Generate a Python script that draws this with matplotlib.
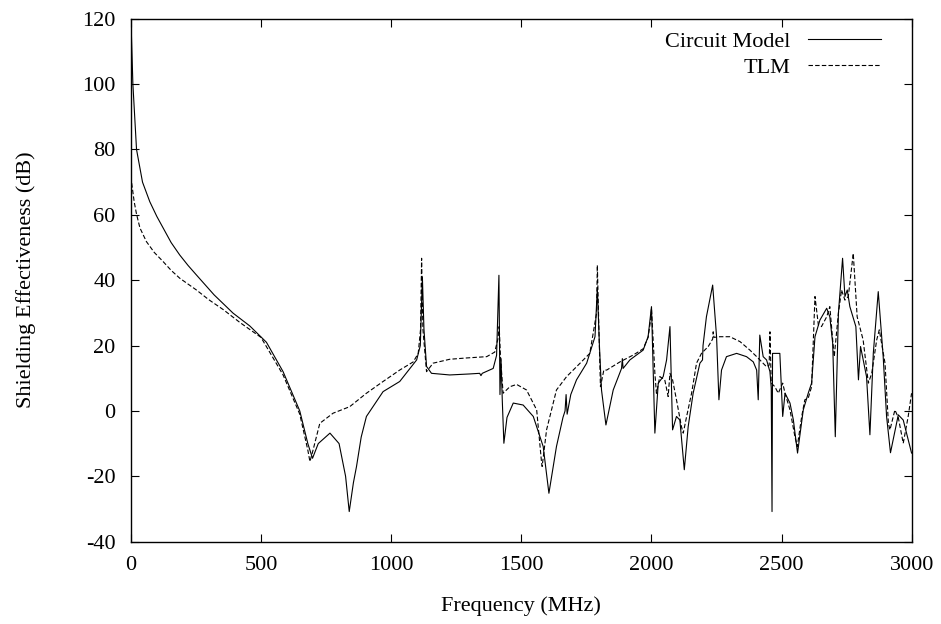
import numpy as np
import matplotlib.pyplot as plt

# values (frequency in MHz, SE in dB)
circuit_f = [2, 8, 22, 45, 73, 100, 124, 155, 188, 220, 252, 320, 393, 457, 521, 585,
             649, 680, 698,
             720, 765, 800, 825, 839, 855, 867, 885, 905, 969, 1033, 1098, 1112, 1120,
             1126, 1136, 1155, 1225, 1300, 1340, 1345, 1350, 1392, 1405, 1414, 1418,
             1422, 1427, 1433, 1445, 1469, 1507, 1546, 1584, 1606, 1635, 1660, 1668,
             1672, 1676, 1690, 1712, 1751, 1783, 1792, 1800, 1808, 1825, 1853, 1885,
             1888, 1891, 1917, 1968, 1987, 2000, 2013, 2026, 2045, 2058, 2071, 2081,
             2096, 2109, 2126, 2141, 2160, 2186, 2196, 2198, 2211, 2235, 2250, 2259,
             2269, 2288, 2327, 2365, 2391, 2404, 2410, 2416, 2429, 2442, 2455, 2460,
             2463, 2465, 2493, 2504, 2513, 2532, 2545, 2561, 2583, 2602, 2615, 2628,
             2647, 2673, 2685, 2696, 2706, 2718, 2734, 2743, 2752, 2762, 2785, 2795,
             2803, 2826, 2839, 2852, 2871, 2890, 2903, 2918, 2948, 2967, 2999]
circuit_se = [116, 100, 80, 70, 64, 59.5, 56, 51.5, 47.7, 44.5, 41.6, 35.5, 29.9, 26, 21, 12,
              0, -10, -14.5,
              -10, -6.8, -10, -20, -30.8, -22, -17, -8, -1.7, 5.9, 9, 15.6, 20, 41,
              25, 13.6, 11.5, 11, 11.3, 11.5, 10.8, 11.5, 13, 17, 41.5, 5,
              16, 3, -9.9, -2, 2.4, 1.8, -1.7, -10.9, -25.2, -10.9, -2, 0,
              5, -1, 5, 9.5, 14.6, 22.7, 37.5, 20, 6.4, -4.3, 6.4, 13,
              16, 13, 15.6, 18.6, 22.7, 31.9, -6.8, 8.5, 10.5, 15.6, 25.8, -5.8,
              -1.7, -2.8, -18, -4.8, 5.4, 14.6, 15.6, 20, 28.8, 38.5, 22.7, 3.4,
              12.5, 16.6, 17.6, 16.6, 15, 12.5, 3.4, 23.2, 16.6, 15.6, 12, 7,
              -30.8, 17.6, 17.6, -1.7, 5.4, 2.4, -2.8, -12.9, 0.3, 5.4, 8.5, 22.7,
              27.8, 31.4, 28.8, 20.7, -7.9, 29.9, 46.7, 35, 37, 31.9, 25.8, 9.5,
              19.7, 10.5, -7.3, 17.6, 36.5, 16.6, -1.7, -12.8, -1.2, -2.8, -12.9]

tlm_f = [0, 13, 22, 35, 60, 90, 124, 155, 188, 220, 252, 300, 355, 420, 500, 585, 649,
         680, 688, 700, 726,
         777, 841, 905, 969, 1033, 1085, 1104, 1113, 1117, 1122, 1136, 1161, 1225,
         1290, 1367, 1398, 1410, 1415, 1420, 1430, 1456, 1482, 1520, 1559, 1578,
         1580, 1597, 1635, 1674, 1712, 1763, 1789, 1792, 1798, 1804, 1817, 1828,
         1879, 1930, 1968, 1987, 1997, 2000, 2013, 2019, 2032, 2051, 2064, 2071,
         2081, 2096, 2115, 2122, 2135, 2154, 2173, 2192, 2218, 2235, 2237, 2240,
         2263, 2301, 2340, 2378, 2404, 2442, 2452, 2455, 2460, 2474, 2487, 2504,
         2513, 2532, 2551, 2560, 2577, 2589, 2602, 2615, 2628, 2641, 2653, 2673,
         2685, 2696, 2702, 2718, 2730, 2743, 2756, 2775, 2790, 2813, 2833, 2846,
         2865, 2875, 2897, 2910, 2916, 2935, 2948, 2967, 2986, 2999]
tlm_se = [71.7, 64, 60.2, 56, 51.8, 48.5, 45.7, 43, 40.6, 38.8, 37, 34, 31, 27, 22.5, 11, -1,
          -12, -15.5, -12, -3.8,
          -0.7, 1.3, 5.4, 9, 12.5, 15, 17.6, 25, 46.7, 25, 12, 14.6, 15.8,
          16.2, 16.6, 18, 22, 25.8, 16.6, 5.4, 7.4, 8.1, 6.4, 0.3, -16,
          -17, -5.8, 6.4, 10.5, 13.5, 17.6, 29.9, 44.6, 25, 7.4, 12.5, 12.5,
          15, 17.1, 19, 22.5, 28, 31.4, 11.5, 5.4, 10.5, 9.5, 4.4, 11.5,
          9.5, 3.4, -4.8, -6.8, -1.7, 5.4, 14.6, 17.6, 19.7, 22, 24.2, 22.5,
          22.7, 22.7, 21.2, 18.6, 16.6, 13.5, 14, 24.2, 8.5, 7.4, 5.4, 8.5,
          5.4, 0.3, -7.9, -10.9, -1.7, 3.4, 3.9, 7.4, 35, 26.3, 25.8, 28.8,
          31.9, 21.7, 16.6, 29.9, 37, 33.9, 35, 48.2, 28.8, 21.7, 8.5, 11.5,
          21.7, 24.8, 14.6, -3.8, -5.8, 0.3, -2, -9.9, -1.7, 5.4]

plt.rcParams['font.family'] = ['Liberation Serif', 'DejaVu Serif']
plt.rcParams['font.size'] = 16
plt.rcParams['axes.unicode_minus'] = False

fig = plt.figure(figsize=(9.41, 6.24), dpi=100)
ax = fig.add_axes([0.139, 0.132, 0.830, 0.838])

ax.plot(circuit_f, circuit_se, '-', color='black', linewidth=0.8, label='Circuit Model')
ax.plot(tlm_f, tlm_se, color='black', linewidth=0.8, linestyle=(0, (4, 2)), label='TLM')

ax.set_xlim(0, 3000)
ax.set_ylim(-40, 120)
ax.set_xticks(np.arange(0, 3001, 500))
ax.set_yticks(np.arange(-40, 121, 20))
ax.tick_params(direction='in', length=5.5, width=0.8, top=True, right=True, labelsize=16)
ax.tick_params(axis='x', pad=10)
ax.tick_params(axis='y', pad=11)
for s in ax.spines.values():
    s.set_linewidth(1.0)

ax.set_xlabel('Frequency (MHz)', fontsize=16, labelpad=16)
ax.set_ylabel('Shielding Effectiveness (dB)', fontsize=16, labelpad=33)

ax.legend(loc='upper right', bbox_to_anchor=(0.981, 1.006), frameon=False,
          markerfirst=False, handlelength=3.3, fontsize=16, borderaxespad=0.3,
          labelspacing=0.25, handletextpad=0.8)

plt.savefig('out.png', dpi=100)
